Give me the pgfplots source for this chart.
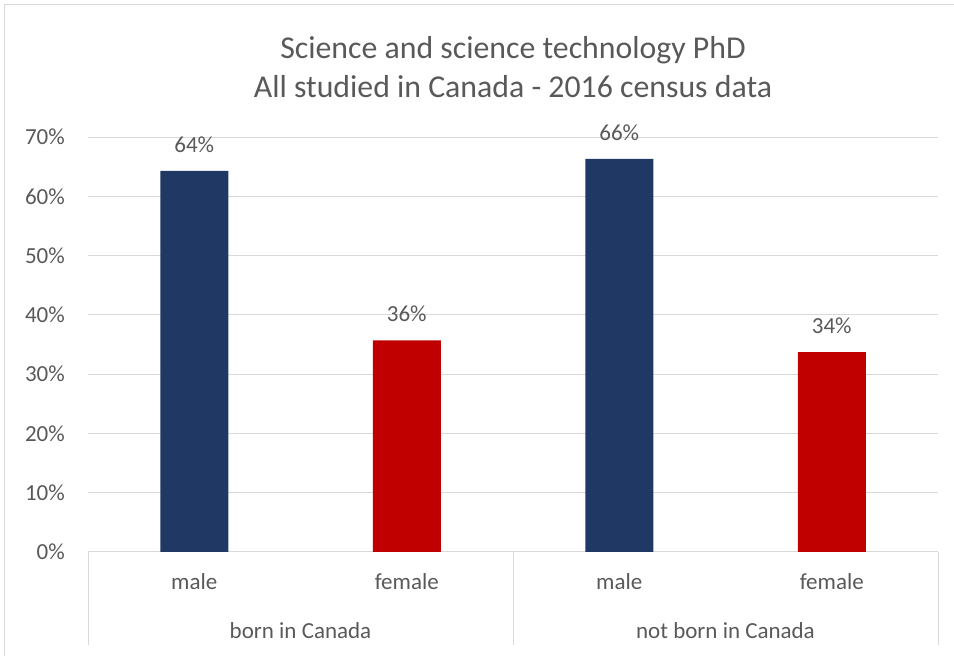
\documentclass[border=0pt]{standalone}
\usepackage{fontspec}
\setmainfont{Carlito}
\usepackage{pgfplots}
\pgfplotsset{compat=1.18}

\definecolor{barnavy}{HTML}{203864}
\definecolor{barred}{HTML}{C00000}
\definecolor{gridgray}{HTML}{D9D9D9}
\definecolor{txtgray}{HTML}{595959}

\begin{document}
\begin{tikzpicture}[x=1pt,y=1pt]
\path[use as bounding box] (0,0) rectangle (954,656);
% chart area frame (only top and left edges are visible)
\draw[gridgray, line width=1pt] (4,0) -- (4,651) -- (954,651);

% title
\node[anchor=base, text=txtgray, font=\fontsize{31.8}{38}\selectfont] at (513,597) {Science and science technology PhD};
\node[anchor=base, text=txtgray, font=\fontsize{31.8}{38}\selectfont] at (513,558) {All studied in Canada - 2016 census data};

\begin{axis}[
    at={(88pt,104pt)},
    anchor=south west,
    scale only axis,
    width=850pt,
    height=415pt,
    xmin=-0.5, xmax=3.5,
    ymin=0, ymax=70,
    ytick={0,10,...,70},
    yticklabel={\pgfmathprintnumber{\tick}\%},
    /pgf/number format/assume math mode=true,
    xtick={0,1,2,3},
    xticklabels={male,female,male,female},
    ymajorgrids,
    grid style={gridgray, line width=1pt},
    axis line style={draw=none},
    major tick length=0pt,
    tick label style={text=txtgray, font=\fontsize{23}{27}\selectfont},
    yticklabel style={anchor=east, inner sep=0pt, xshift=-23pt},
    xticklabel style={anchor=center, inner sep=0pt, yshift=-30pt},
    clip=false,
    ybar,
    bar width=68pt,
    bar shift=0pt,
    nodes near coords={\pgfmathprintnumber[fixed,precision=0]{\pgfplotspointmeta}\%},
    every node near coord/.append style={text=txtgray, font=\fontsize{23}{27}\selectfont, inner sep=0pt, yshift=18pt},
]

% male
\addplot[fill=barnavy, draw=none] coordinates {(0,64.3) (2,66.3)};
% female
\addplot[fill=barred, draw=none] coordinates {(1,35.7) (3,33.7)};

% category separators
\draw[gridgray, line width=1pt] (axis cs:-0.5,0) -- ++(0pt,-93pt);
\draw[gridgray, line width=1pt] (axis cs:1.5,0) -- ++(0pt,-93pt);
\draw[gridgray, line width=1pt] (axis cs:3.5,0) -- ++(0pt,-93pt);

% group labels
\node[text=txtgray, font=\fontsize{23}{27}\selectfont] at (axis cs:0.5,0) [yshift=-79pt] {born in Canada};
\node[text=txtgray, font=\fontsize{23}{27}\selectfont] at (axis cs:2.5,0) [yshift=-79pt] {not born in Canada};

\end{axis}
\end{tikzpicture}
\end{document}
